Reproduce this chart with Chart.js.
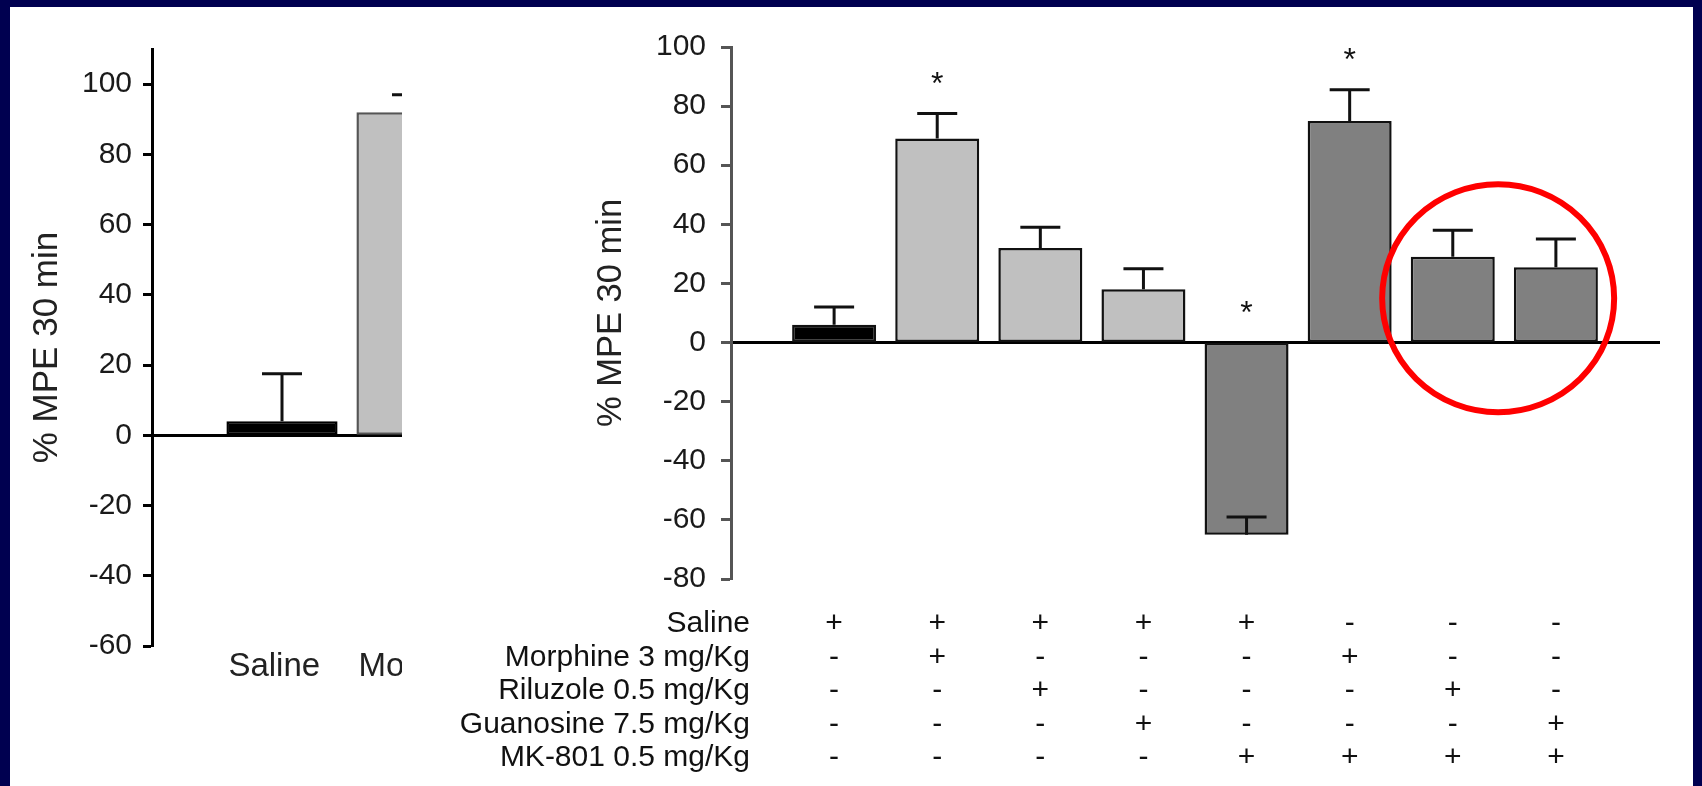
<!DOCTYPE html>
<html>
<head>
<meta charset="utf-8">
<title>% MPE 30 min</title>
<script src="https://cdn.jsdelivr.net/npm/chart.js@4.4.1/dist/chart.umd.min.js"></script>
<style>
  html, body { margin: 0; padding: 0; width: 1702px; height: 786px; overflow: hidden; background: #000050; }
  #sheet { position: absolute; left: 10px; top: 7px; right: 9px; bottom: 0; background: #fff; }
  #leftWrap { position: absolute; left: 0; top: 0; width: 402px; height: 786px; overflow: hidden; }
  #leftChart { position: absolute; left: 0; top: 0; }
  #rightChart { position: absolute; left: 402px; top: 0; }
</style>
</head>
<body>
<div id="sheet"></div>
<div id="leftWrap"><canvas id="leftChart" width="560" height="786"></canvas></div>
<canvas id="rightChart" width="1300" height="786"></canvas>

<script>
// ---- data: left panel (saline vs morphine) ----
const leftGroups = ['Saline', 'Morphine'];
const leftMeans = [4, 92];
const leftSem = [13.5, 5];
const leftStars = [false, true];
const leftTicks = [-60, -40, -20, 0, 20, 40, 60, 80, 100];

// ---- data: right panel (combinations) ----
const rightMeans = [6, 69, 32, 18, -65, 75, 29, 25.5];
const rightSem = [6, 8.5, 7, 7, 6, 10.5, 9, 9.5];
const rightStars = [false, true, false, false, true, true, false, false];
const rightTicks = [-80, -60, -40, -20, 0, 20, 40, 60, 80, 100];

// treatment table under the right panel
const treatments = ['Saline', 'Morphine 3 mg/Kg', 'Riluzole 0.5 mg/Kg', 'Guanosine 7.5 mg/Kg', 'MK-801 0.5 mg/Kg'];
const saline    = ['+', '+', '+', '+', '+', '-', '-', '-'];
const morphine  = ['-', '+', '-', '-', '-', '+', '-', '-'];
const riluzole  = ['-', '-', '+', '-', '-', '-', '+', '-'];
const guanosine = ['-', '-', '-', '+', '-', '-', '-', '+'];
const mk801     = ['-', '-', '-', '-', '+', '+', '+', '+'];

const FONT = "'Liberation Sans', Arial, sans-serif";
const BLACK = '#000000', LIGHT = '#c0c0c0', DARK = '#808080';

// error bars (mean + SEM) and significance stars
const errorBars = {
    id: 'errorBars',
    afterDatasetsDraw(chart, args, opts) {
        const { ctx, scales: { x, y } } = chart;
        const pts = chart.data.datasets[0].data;
        ctx.save();
        ctx.strokeStyle = '#111';
        ctx.fillStyle = '#111';
        ctx.lineWidth = 3;
        ctx.font = opts.starSize + 'px ' + FONT;
        ctx.textAlign = 'center';
        ctx.textBaseline = 'alphabetic';
        pts.forEach((p, i) => {
            const px = x.getPixelForValue(p.x);
            const top = p.y + opts.sem[i];
            const y0 = y.getPixelForValue(p.y);
            const y1 = y.getPixelForValue(top);
            ctx.beginPath();
            ctx.moveTo(px, y0);
            ctx.lineTo(px, y1);
            ctx.moveTo(px - opts.cap, y1);
            ctx.lineTo(px + opts.cap, y1);
            ctx.stroke();
            if (opts.stars[i]) {
                const cy = y.getPixelForValue(Math.max(top, 0)) - 38;
                ctx.fillText('*', px, cy + opts.starSize * 0.57);
            }
        });
        ctx.restore();
    }
};

// group names below the left panel, lined up with each bar's left edge
const groupLabels = {
    id: 'groupLabels',
    afterDraw(chart, args, opts) {
        if (!opts.labels) return;
        const { ctx, chartArea } = chart;
        const bars = chart.getDatasetMeta(0).data;
        ctx.save();
        ctx.fillStyle = '#222';
        ctx.font = '33px ' + FONT;
        ctx.textAlign = 'left';
        ctx.textBaseline = 'middle';
        opts.labels.forEach((t, i) => {
            const b = bars[i];
            ctx.fillText(t, b.x - b.width / 2 + 2, chartArea.bottom + 21);
        });
        ctx.restore();
    }
};

// +/- treatment grid and the highlight ring on the right panel
const treatmentTable = {
    id: 'treatmentTable',
    afterDraw(chart, args, opts) {
        if (!opts.rows) return;
        const { ctx, chartArea, scales: { x, y } } = chart;
        ctx.save();
        ctx.fillStyle = '#111';
        ctx.font = '30px ' + FONT;
        ctx.textBaseline = 'middle';
        opts.rows.forEach((row, r) => {
            const ry = chartArea.bottom + 45 + r * 33.5;
            ctx.textAlign = 'right';
            ctx.fillText(opts.names[r], chartArea.left + 19, ry);
            ctx.textAlign = 'center';
            row.forEach((s, i) => ctx.fillText(s, x.getPixelForValue(i + 1), ry));
        });

        // red ring round the last two groups
        const cx = x.getPixelForValue(opts.ring.x);
        const cy = y.getPixelForValue(opts.ring.y);
        ctx.strokeStyle = '#ff0000';
        ctx.lineWidth = 6;
        ctx.beginPath();
        ctx.ellipse(cx, cy, 116, 114, 0, 0, Math.PI * 2);
        ctx.stroke();
        ctx.restore();
    }
};

function yScale(ticks, min, max, width, tickLen, pad, title, axisColor) {
    return {
        type: 'linear',
        min: min,
        max: max,
        afterBuildTicks: (s) => { s.ticks = ticks.map(v => ({ value: v })); },
        afterFit: (s) => { s.width = width; },
        border: { display: true, color: axisColor, width: 3 },
        grid: { drawOnChartArea: false, drawTicks: true, tickLength: tickLen, tickWidth: 3, tickColor: axisColor },
        ticks: { color: '#1a1a1a', font: { family: FONT, size: 30 }, padding: pad },
        title: title
    };
}

function xScale(max) {
    return {
        type: 'linear',
        min: 0,
        max: max,
        offset: false,
        position: { y: 0 },
        border: { display: true, color: '#000', width: 3 },
        grid: { drawOnChartArea: false, drawTicks: false },
        ticks: { display: false, stepSize: 1 }
    };
}

// left panel
new Chart(document.getElementById('leftChart'), {
    type: 'bar',
    data: {
        datasets: [{
            data: leftGroups.map((g, i) => ({ x: i + 1, y: leftMeans[i] })),
            backgroundColor: [BLACK, LIGHT],
            borderColor: ['#000', '#555'],
            borderWidth: 2.5,
            borderSkipped: false,
            barPercentage: 0.95,
            categoryPercentage: 0.9
        }]
    },
    options: {
        responsive: false,
        animation: false,
        layout: { padding: { left: 0, top: 49, right: 18, bottom: 140 } },
        scales: {
            x: xScale(3),
            y: yScale(leftTicks, -60, 110, 152, 9, 11, {
                display: true, text: '% MPE 30 min', color: '#222',
                font: { family: FONT, size: 35 }, padding: { top: 26, bottom: 0 }
            }, '#000')
        },
        plugins: {
            legend: { display: false },
            tooltip: { enabled: false },
            errorBars: { sem: leftSem, stars: leftStars, cap: 20, starSize: 32 },
            groupLabels: { labels: leftGroups }
        }
    },
    plugins: [errorBars, groupLabels]
});

// right panel
new Chart(document.getElementById('rightChart'), {
    type: 'bar',
    data: {
        datasets: [{
            data: rightMeans.map((v, i) => ({ x: i + 1, y: v })),
            backgroundColor: [BLACK, LIGHT, LIGHT, LIGHT, DARK, DARK, DARK, DARK],
            borderColor: '#111',
            borderWidth: 2.5,
            borderSkipped: false,
            barPercentage: 0.9,
            categoryPercentage: 0.905
        }]
    },
    options: {
        responsive: false,
        animation: false,
        layout: { padding: { left: 150, top: 47, right: 43, bottom: 207 } },
        scales: {
            x: xScale(9),
            y: yScale(rightTicks, -80, 100, 179, 10, 15, {
                display: true, text: '% MPE 30 min', color: '#222',
                font: { family: FONT, size: 34.5 }, padding: { top: 39, bottom: 0 }
            }, '#555')
        },
        plugins: {
            legend: { display: false },
            tooltip: { enabled: false },
            errorBars: { sem: rightSem, stars: rightStars, cap: 20, starSize: 32 },
            treatmentTable: {
                names: treatments,
                rows: [saline, morphine, riluzole, guanosine, mk801],
                ring: { x: 7.44, y: 15 }
            }
        }
    },
    plugins: [errorBars, treatmentTable]
});
</script>
</body>
</html>
